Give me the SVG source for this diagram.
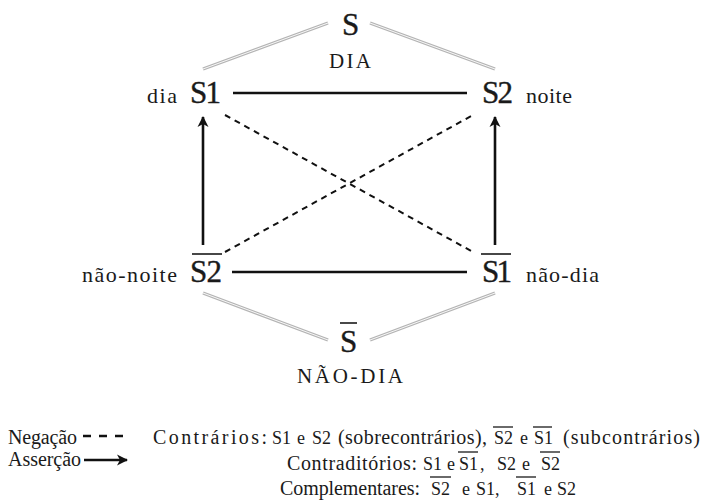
<svg xmlns="http://www.w3.org/2000/svg" width="703" height="502" viewBox="0 0 703 502">
<style>
text{font-family:"Liberation Serif","Times New Roman",serif;fill:#1a1a1a}
.big{font-size:31px;stroke:#1a1a1a;stroke-width:0.4}
.lab{font-size:22px}
.cap{font-size:21px}
.leg{font-size:20px}
.legs{font-size:18px}
.bar{stroke:#1a1a1a;stroke-width:1.6}
.lbar{stroke:#1a1a1a;stroke-width:1.3}
.solid{stroke:#111;stroke-width:2.6;fill:none}
.dash{stroke:#111;stroke-width:2;stroke-dasharray:6 5;fill:none}
.grayo{stroke:#b4b4b4;stroke-width:3.2;fill:none}
.grayi{stroke:#fff;stroke-width:0.9;fill:none}
</style>
<defs>
<marker id="ah" markerUnits="userSpaceOnUse" markerWidth="12" markerHeight="12" viewBox="0 0 12 12" refX="10" refY="6" orient="auto">
<path d="M0,0.5 L11,6 L0,11.5 L3,6 Z" fill="#111"/>
</marker>
</defs>
<g id="connectors">
<line class="grayo" x1="203" y1="69" x2="328" y2="23"/><line class="grayi" x1="203" y1="69" x2="328" y2="23"/>
<line class="grayo" x1="370" y1="23" x2="495" y2="69"/><line class="grayi" x1="370" y1="23" x2="495" y2="69"/>
<line class="grayo" x1="203" y1="293" x2="328" y2="340"/><line class="grayi" x1="203" y1="293" x2="328" y2="340"/>
<line class="grayo" x1="370" y1="340" x2="495" y2="293"/><line class="grayi" x1="370" y1="340" x2="495" y2="293"/>
<line class="solid" x1="233" y1="93" x2="467" y2="93"/>
<line class="solid" x1="232" y1="272" x2="467" y2="272"/>
<line class="solid" x1="203" y1="245" x2="203" y2="117" marker-end="url(#ah)"/>
<line class="solid" x1="495" y1="245" x2="495" y2="117" marker-end="url(#ah)"/>
<line class="dash" x1="225" y1="115" x2="473" y2="252"/>
<line class="dash" x1="225" y1="252" x2="473" y2="115"/>
</g>
<g id="node-S">
<text class="big" x="342" y="35">S</text>
<text class="cap" x="329" y="68" textLength="42">DIA</text>
</g>
<g id="node-S1">
<text class="lab" x="147" y="103" textLength="30">dia</text>
<text class="big" x="190" y="103" textLength="31">S1</text>
</g>
<g id="node-S2">
<text class="big" x="482" y="103" textLength="31">S2</text>
<text class="lab" x="526" y="103" textLength="46">noite</text>
</g>
<g id="node-S2bar">
<text class="lab" x="82" y="282" textLength="95">não-noite</text>
<line class="bar" x1="192" y1="254" x2="222" y2="254"/>
<text class="big" x="190" y="282" textLength="32">S2</text>
</g>
<g id="node-S1bar">
<line class="bar" x1="481" y1="254" x2="511" y2="254"/>
<text class="big" x="482" y="282" textLength="30">S1</text>
<text class="lab" x="526" y="282" textLength="73">não-dia</text>
</g>
<g id="node-Sbar">
<line class="bar" x1="340" y1="323" x2="357" y2="323"/>
<text class="big" x="340" y="352">S</text>
<text class="cap" x="297" y="383" textLength="106">NÃO-DIA</text>
</g>
<g id="legend">
<text class="leg" x="8" y="444" textLength="69">Negação</text>
<line x1="83" y1="436" x2="125" y2="436" stroke="#111" stroke-width="2.4" stroke-dasharray="8 8"/>
<text class="leg" x="8" y="466" textLength="73">Asserção</text>
<line class="solid" x1="84" y1="460" x2="127" y2="460" marker-end="url(#ah)"/>
<text class="leg" x="153" y="444" textLength="114">Contrários:</text>
<text class="legs" x="272" y="444">S1</text>
<text class="legs" x="297" y="444">e</text>
<text class="legs" x="312" y="444">S2</text>
<text class="leg" x="338" y="444" textLength="149">(sobrecontrários),</text>
<line class="lbar" x1="493" y1="427" x2="513" y2="427"/>
<text class="legs" x="494" y="444">S2</text>
<text class="legs" x="520" y="444">e</text>
<line class="lbar" x1="533" y1="427" x2="552" y2="427"/>
<text class="legs" x="534" y="444">S1</text>
<text class="leg" x="563" y="444" textLength="137">(subcontrários)</text>
<text class="leg" x="287" y="470" textLength="130">Contraditórios:</text>
<text class="legs" x="423" y="470">S1</text>
<text class="legs" x="447" y="470">e</text>
<line class="lbar" x1="458" y1="452" x2="478" y2="452"/>
<text class="legs" x="459" y="470">S1</text>
<text class="legs" x="480" y="470">,</text>
<text class="legs" x="497" y="470">S2</text>
<text class="legs" x="522" y="470">e</text>
<line class="lbar" x1="540" y1="452" x2="560" y2="452"/>
<text class="legs" x="541" y="470">S2</text>
<text class="leg" x="280" y="495" textLength="140">Complementares:</text>
<line class="lbar" x1="430" y1="477" x2="451" y2="477"/>
<text class="legs" x="431" y="495">S2</text>
<text class="legs" x="462" y="495">e</text>
<text class="legs" x="476" y="495">S1,</text>
<line class="lbar" x1="516" y1="477" x2="536" y2="477"/>
<text class="legs" x="517" y="495">S1</text>
<text class="legs" x="544" y="495">e</text>
<text class="legs" x="557" y="495">S2</text>
</g>
</svg>
